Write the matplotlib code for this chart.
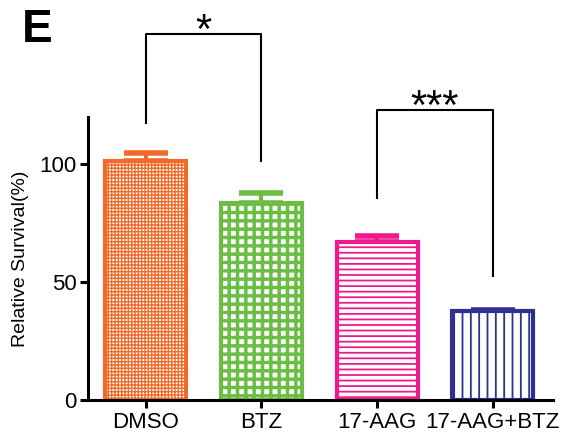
import matplotlib
matplotlib.use("Agg")
import matplotlib.pyplot as plt
import numpy as np

categories = ["DMSO", "BTZ", "17-AAG", "17-AAG+BTZ"]
values = [101.2, 83.5, 67.0, 37.6]
errors = [3.5, 4.2, 2.5, 0.6]
colors = ["#F26A2A", "#6CBD45", "#EC1A8C", "#2E3192"]
hatches = ["+++++", "++", "---", "||"]
hatch_lw = [1.0, 2.5, 1.3, 1.3]
# significance brackets: (left idx, right idx, top, left-leg bottom, right-leg bottom, label)
brackets = [(0, 1, 155, 117, 101, "*"), (2, 3, 123, 85, 52, "***")]

plt.rcParams['font.family'] = ['Liberation Sans', 'DejaVu Sans']

fig = plt.figure(figsize=(5.73, 4.38), dpi=100)
ax = fig.add_axes([0.1536, 0.0868, 0.965 - 0.1536, 0.733 - 0.0868])

x = np.arange(len(categories))
for i in range(len(categories)):
    with plt.rc_context({'hatch.linewidth': hatch_lw[i]}):
        b = ax.bar(x[i], values[i], width=0.7, color='white', edgecolor=colors[i],
                   hatch=hatches[i], linewidth=3.0, zorder=2)
        for p in b:
            if hasattr(p, 'set_hatch_linewidth'):
                p.set_hatch_linewidth(hatch_lw[i])
    ax.errorbar(x[i], values[i], yerr=[[0], [errors[i]]], fmt='none', ecolor=colors[i],
                elinewidth=3.0, capsize=16, capthick=4, zorder=1)

for (l, r, top, lb, rb, lab) in brackets:
    ax.plot([x[l], x[l], x[r], x[r]], [lb, top, top, rb], color='black', lw=1.5,
            clip_on=False, solid_capstyle='butt')
    ax.text((x[l] + x[r]) / 2, top - 7.5, lab, ha='center', va='bottom', fontsize=30,
            clip_on=False)

ax.set_xlim(-0.5, 3.52)
ax.set_ylim(0, 120)
ax.set_yticks([0, 50, 100])
ax.set_xticks(x)
ax.set_xticklabels(categories, fontsize=16)
ax.tick_params(axis='y', labelsize=16, width=2.2, length=6, pad=2)
ax.tick_params(axis='x', width=2.2, length=6, pad=3)
for s in ['top', 'right']:
    ax.spines[s].set_visible(False)
for s in ['left', 'bottom']:
    ax.spines[s].set_linewidth(2.2)
ax.set_ylabel("Relative Survival(%)", fontsize=14, labelpad=8)

fig.text(0.038, 0.982, "E", fontsize=33, fontweight='bold', ha='left', va='top')

fig.savefig("out.png", dpi=100)
